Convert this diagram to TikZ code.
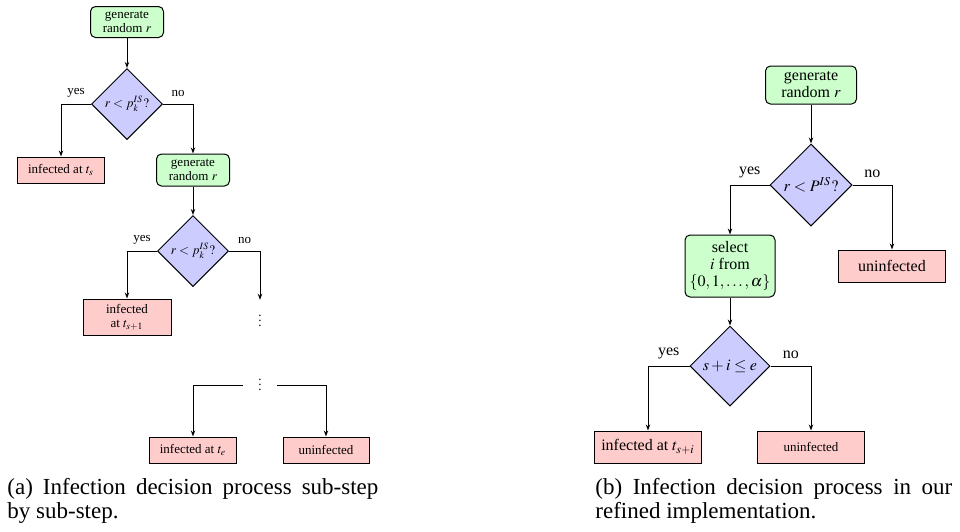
\documentclass[tikz,border=0pt]{standalone}
\usepackage{mathptmx}
\usepackage{fontspec}
\setmainfont{Liberation Serif}
\usetikzlibrary{shapes.geometric,positioning,arrows.meta}

\newcommand{\tightvdots}{\vbox{\baselineskip2.5pt\lineskiplimit0pt\hbox{.}\hbox{.}\hbox{.}}}

\begin{document}
\begin{tikzpicture}[
  on grid,
  >={Stealth[length=3pt,width=2.2pt]},
  small/.style={font=\fontsize{6.5}{7}\selectfont},
  large/.style={font=\fontsize{8}{8.5}\selectfont},
  genbox/.style={draw, rounded corners=2.5pt, fill=green!20, align=center, inner sep=1pt, line width=0.5pt},
  testbox/.style={draw, diamond, aspect=1, fill=blue!20, inner sep=0pt, line width=0.5pt},
  endbox/.style={draw, fill=red!20, align=center, inner sep=1pt, line width=0.5pt},
  gap/.style={inner xsep=7.5pt, inner ysep=7.5pt},
  arrow/.style={->, line width=0.5pt},
  caption/.style={anchor=north west, inner sep=0pt, align=justify, font=\fontsize{11.5}{12}\selectfont}
]
\useasboundingbox (0,0) rectangle (480pt,-265.5pt);

% (a) sub-step by sub-step
\node[genbox, small, minimum width=36.5pt, minimum height=15.5pt] (genA) at (63.5pt,-11pt) {generate\\random $r$};
\node[testbox, small, minimum size=35.5pt, below=41pt of genA] (testA) {$r<p_k^{IS}?$};
\node[endbox, small, minimum width=43.5pt, minimum height=13pt, below left=33pt and 33pt of testA] (infA) {infected at $t_s$};
\node[genbox, small, minimum width=36.5pt, minimum height=16pt, below right=33pt and 33pt of testA] (genB) {generate\\random $r$};
\node[testbox, small, minimum size=35.5pt, below=40.5pt of genB] (testB) {$r<p_k^{IS}?$};
\node[endbox, small, minimum width=44pt, minimum height=18pt, below left=33pt and 33pt of testB] (infB) {infected\\at $t_{s+1}$};
\node[gap, small, below right=35pt and 33.5pt of testB] (skipA) {\tightvdots};
\node[gap, small, below=32pt of skipA] (skipB) {\tightvdots};
\node[endbox, small, minimum width=43.5pt, minimum height=13pt, below left=32.5pt and 33.5pt of skipB] (infC) {infected at $t_e$};
\node[endbox, small, minimum width=43pt, minimum height=13pt, below right=32.5pt and 33pt of skipB] (noneA) {uninfected};

\draw[arrow] (genA) -- (testA);
\draw[arrow] (testA.west) -| node[small, pos=0.25, above] {yes} (infA.north);
\draw[arrow] (testA.east) -| node[small, pos=0.25, above] {no} (genB.north);
\draw[arrow] (genB) -- (testB);
\draw[arrow] (testB.west) -| node[small, pos=0.25, above] {yes} (infB.north);
\draw[arrow] (testB.east) -| node[small, pos=0.25, above] {no} (skipA.north);
\draw[arrow] (skipB.west) -| (infC.north);
\draw[arrow] (skipB.east) -| (noneA.north);

% (b) refined version
\node[genbox, large, minimum width=45.5pt, minimum height=19pt] (genC) at (405.5pt,-42.5pt) {generate\\random $r$};
\node[testbox, large, minimum size=41pt, below=50pt of genC] (testC) {$r<P^{IS}?$};
\node[genbox, large, minimum width=45pt, minimum height=31pt, below left=40.5pt and 40.5pt of testC] (pickC) {select\\$i$ from\\$\{0,1,\ldots,\alpha\}$};
\node[endbox, large, minimum width=53.5pt, minimum height=16pt, below right=40.5pt and 40.5pt of testC] (noneB) {uninfected};
\node[testbox, large, minimum size=40pt, below=50pt of pickC] (testD) {$s+i\le e$};
\node[endbox, large, minimum width=53.5pt, minimum height=16pt, below left=40.5pt and 41pt of testD] (infD) {infected at $t_{s+i}$};
\node[endbox, small, minimum width=53.5pt, minimum height=16pt, below right=40.5pt and 40.5pt of testD] (noneC) {uninfected};

\draw[arrow] (genC) -- (testC);
\draw[arrow] (testC.west) -| node[large, pos=0.25, above] {yes} (pickC.north);
\draw[arrow] (testC.east) -| node[large, pos=0.25, above] {no} (noneB.north);
\draw[arrow] (pickC) -- (testD);
\draw[arrow] (testD.west) -| node[large, pos=0.25, above] {yes} (infD.north);
\draw[arrow] (testD.east) -| node[large, pos=0.25, above] {no} (noneC.north);

\node[caption, text width=185.5pt] (capA) at (3.5pt,-239pt) {(a) Infection decision process sub-step\linebreak by sub-step.};
\node[caption, text width=178.5pt] (capB) at (297.5pt,-239pt) {(b) Infection decision process in our\linebreak refined implementation.};
\end{tikzpicture}
\end{document}
